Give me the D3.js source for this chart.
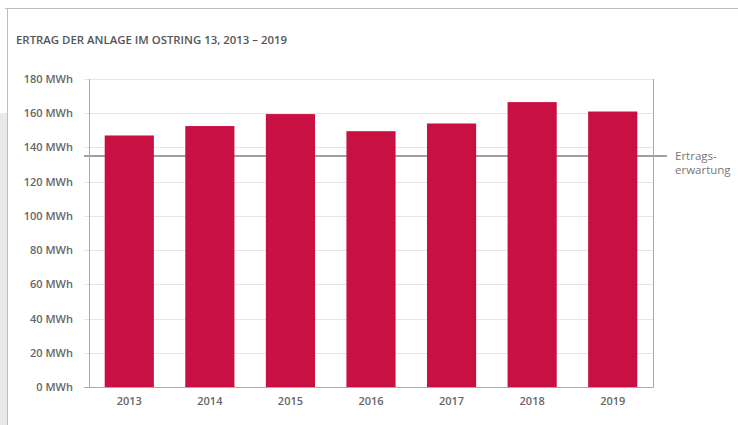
<!DOCTYPE html>
<html>
<head>
<meta charset="utf-8">
<script src="https://cdn.jsdelivr.net/npm/d3@7"></script>
<style>
  body { margin: 0; background: #fff; }
  svg { display: block; font-family: "Open Sans", sans-serif; }
</style>
</head>
<body>
<div class="chart"></div>
<script>
var width = 738, height = 425;

var years = ["2013", "2014", "2015", "2016", "2017", "2018", "2019"];
var ertrag = [147, 152.5, 159.5, 149.5, 154, 166.5, 161];
var erwartung = 135;
var y_ticks = [0, 20, 40, 60, 80, 100, 120, 140, 160, 180];

var margin = {top: 79, right: 85, bottom: 38, left: 89};

var svg = d3.select(".chart").append("svg")
    .attr("width", width)
    .attr("height", height);

// frame of the page
svg.append("rect")
    .attr("x", 0).attr("y", 113)
    .attr("width", 7).attr("height", height - 113)
    .attr("fill", "#e9e9eb");
svg.append("path")
    .attr("d", "M5,8.5H" + width + "M7.5,8V" + height)
    .attr("stroke", "#bdbdbd")
    .attr("fill", "none");

svg.append("text")
    .attr("x", 16)
    .attr("y", 44)
    .attr("fill", "#555")
    .attr("textLength", 271)
    .attr("lengthAdjust", "spacingAndGlyphs")
    .style("font-size", "10.5px")
    .style("font-weight", 600)
    .text("ERTRAG DER ANLAGE IM OSTRING 13, 2013 – 2019");

var x = d3.scaleBand()
    .domain(years)
    .range([margin.left, width - margin.right])
    .paddingInner(0.39)
    .paddingOuter(0.195);

var y = d3.scaleLinear()
    .domain([0, 180])
    .range([height - margin.bottom, margin.top]);

// grid
svg.append("g")
  .selectAll("line")
    .data(y_ticks.slice(1))
  .enter().append("line")
    .attr("x1", margin.left - 5)
    .attr("x2", width - margin.right)
    .attr("y1", function(d){ return Math.round(y(d)) + 0.5; })
    .attr("y2", function(d){ return Math.round(y(d)) + 0.5; })
    .attr("stroke", "#e6e6e6");

// expectation line (behind bars)
svg.append("line")
    .attr("x1", margin.left - 5)
    .attr("x2", width - margin.right + 14)
    .attr("y1", y(erwartung))
    .attr("y2", y(erwartung))
    .attr("stroke", "#a0a0a0")
    .attr("stroke-width", 2.2);

svg.selectAll(".bar")
    .data(years)
  .enter().append("rect")
    .attr("class", "bar")
    .attr("x", function(d){ return x(d); })
    .attr("width", x.bandwidth())
    .attr("y", function(d, i){ return y(ertrag[i]); })
    .attr("height", function(d, i){ return y(0) - y(ertrag[i]); })
    .attr("fill", "#c81142");

// axes frame
svg.append("path")
    .attr("d", "M" + (margin.left + 0.5) + "," + margin.top + "V" + (y(0) + 0.5)
      + "M" + (margin.left - 5) + "," + (y(0) + 0.5) + "H" + (width - margin.right + 0.5)
      + "M" + (width - margin.right + 0.5) + "," + margin.top + "V" + (y(0) + 0.5))
    .attr("stroke", "#a9a9a9")
    .attr("fill", "none");

var yAxis = svg.append("g")
    .attr("transform", "translate(" + (margin.left - 16) + ",0)")
    .call(d3.axisLeft(y).tickValues(y_ticks).tickSize(0).tickPadding(0)
      .tickFormat(function(d){ return d + " MWh"; }));
yAxis.select(".domain").remove();
yAxis.selectAll("text")
    .attr("fill", "#666")
    .style("font-size", "11px")
    .style("font-weight", 600)
    .style("font-family", "'Open Sans', sans-serif");

var xAxis = svg.append("g")
    .attr("transform", "translate(0," + y(0) + ")")
    .call(d3.axisBottom(x).tickSize(0).tickPadding(10));
xAxis.select(".domain").remove();
xAxis.selectAll("text")
    .attr("fill", "#666")
    .style("font-size", "11px")
    .style("font-weight", 600)
    .style("font-family", "'Open Sans', sans-serif");

var lbl = svg.append("text")
    .attr("x", 675)
    .attr("y", 160)
    .attr("fill", "#777")
    .style("font-size", "11.5px");
lbl.append("tspan").attr("x", 675).text("Ertrags-");
lbl.append("tspan").attr("x", 675).attr("dy", 13.5).text("erwartung");
</script>
</body>
</html>
